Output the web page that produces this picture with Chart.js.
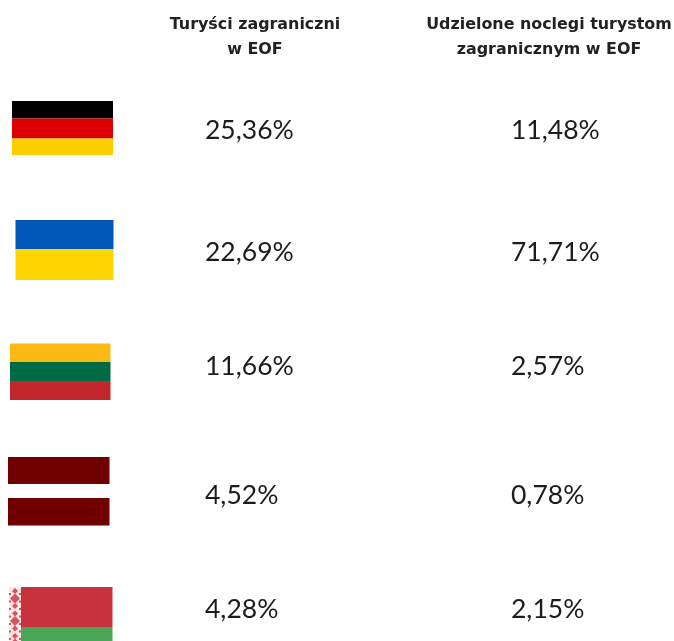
<!DOCTYPE html>
<html lang="pl">
<head>
<meta charset="utf-8">
<title>Turyści zagraniczni w EOF</title>
<script src="https://cdn.jsdelivr.net/npm/chart.js@4/dist/chart.umd.min.js"></script>
<style>
html, body { margin: 0; padding: 0; background: #fff; }
canvas { display: block; filter: blur(0.6px); }
</style>
</head>
<body>
<canvas id="tabela" width="674" height="641"></canvas>
<script>
// dane
var countries = ['Niemcy', 'Ukraina', 'Litwa', 'Łotwa', 'Białoruś'];
var columns = ['Turyści zagraniczni w EOF', 'Udzielone noclegi turystom zagranicznym w EOF'];
var columnLines = [['Turyści zagraniczni', 'w EOF'], ['Udzielone noclegi turystom', 'zagranicznym w EOF']];
var touristsShare = [25.36, 22.69, 11.66, 4.52, 4.28];
var nightsShare = [11.48, 71.71, 2.57, 0.78, 2.15];

// flagi: kolory pasow i ich wysokosci
var flagColors = [
    ['#000000', '#dd0000', '#ffce00'],
    ['#0057b8', '#ffd500'],
    ['#fdb913', '#006a44', '#c1272d'],
    ['#700000', '#ffffff', '#700000'],
    ['#c8313e', '#4aa657']
];
var flagStripes = [
    [17.5, 20, 16.5],
    [29, 31],
    [18.5, 19, 19],
    [27, 14, 27.5],
    [40, 20]
];
var flagLeft = [12, 15.5, 10, 8, 9];
var flagRight = [113, 113.5, 110.5, 109.5, 112.5];
var flagTopOffset = [-28, -28.75, -25, -31.25, -21];

// korekty polozenia tekstu wzgledem siatki
var rowNudge = [1, 3.25, -2.5, 6.75, 1];
var columnNudge = [-50, -38];

function percentText(value) {
    return value.toFixed(2).replace('.', ',') + '%';
}

function toPoints(values, column) {
    return values.map(function (value, i) {
        return { x: column, y: countries[i], share: value };
    });
}

var flagsPlugin = {
    id: 'flags',
    afterDraw: function (chart) {
        var ctx = chart.ctx;
        var yScale = chart.scales.y;
        ctx.save();
        countries.forEach(function (country, i) {
            var top = yScale.getPixelForValue(i) + flagTopOffset[i];
            var left = flagLeft[i];
            var width = flagRight[i] - flagLeft[i];
            flagStripes[i].forEach(function (height, s) {
                ctx.fillStyle = flagColors[i][s];
                ctx.fillRect(left, top, width, height);
                top += height;
            });
        });
        // ornament na fladze Bialorusi
        var by = countries.length - 1;
        var orTop = yScale.getPixelForValue(by) + flagTopOffset[by];
        ctx.fillStyle = '#f9e6e7';
        ctx.fillRect(flagLeft[by], orTop, 12, 60);
        ctx.fillStyle = '#d4555e';
        for (var k = 0; k < 8; k++) {
            var cy = orTop + 4 + k * 7.5;
            var r = k % 3 === 1 ? 5 : 3;
            ctx.beginPath();
            ctx.moveTo(flagLeft[by] + 6, cy - r);
            ctx.lineTo(flagLeft[by] + 6 + r, cy);
            ctx.lineTo(flagLeft[by] + 6, cy + r);
            ctx.lineTo(flagLeft[by] + 6 - r, cy);
            ctx.closePath();
            ctx.fill();
            ctx.fillRect(flagLeft[by], cy + 2, 2, 2);
            ctx.fillRect(flagLeft[by] + 10, cy + 2, 2, 2);
        }
        ctx.restore();
    }
};

var valuesPlugin = {
    id: 'values',
    afterDatasetsDraw: function (chart) {
        var ctx = chart.ctx;
        ctx.save();
        ctx.font = '26.5px Lato';
        ctx.fillStyle = '#1c1c1c';
        ctx.textAlign = 'left';
        ctx.textBaseline = 'middle';
        chart.data.datasets.forEach(function (dataset, d) {
            chart.getDatasetMeta(d).data.forEach(function (point, i) {
                ctx.fillText(percentText(dataset.data[i].share), point.x + columnNudge[d], point.y + rowNudge[i]);
            });
        });
        ctx.restore();
    }
};

var chart = new Chart(document.getElementById('tabela').getContext('2d'), {
    type: 'line',
    data: {
        labels: columns,
        datasets: [
            { label: columns[0], data: toPoints(touristsShare, columns[0]), showLine: false, pointRadius: 0 },
            { label: columns[1], data: toPoints(nightsShare, columns[1]), showLine: false, pointRadius: 0 }
        ]
    },
    options: {
        responsive: false,
        animation: false,
        layout: { padding: { left: 255, right: 125, top: 0, bottom: 33 } },
        plugins: { legend: { display: false }, tooltip: { enabled: false } },
        scales: {
            x: {
                type: 'category',
                position: 'top',
                offset: false,
                grid: { display: false },
                border: { display: false },
                afterFit: function (scale) {
                    scale.height = 129;
                    scale.paddingLeft = 0;
                    scale.paddingRight = 0;
                },
                ticks: {
                    color: '#222222',
                    font: { family: 'DejaVu Sans', size: 15.9, weight: 'bold', lineHeight: 1.57 },
                    maxRotation: 0,
                    minRotation: 0,
                    autoSkip: false,
                    padding: 59,
                    callback: function (value, i) {
                        return columnLines[i];
                    }
                }
            },
            y: {
                type: 'category',
                labels: countries,
                offset: false,
                display: false
            }
        }
    },
    plugins: [flagsPlugin, valuesPlugin]
});
</script>
</body>
</html>
